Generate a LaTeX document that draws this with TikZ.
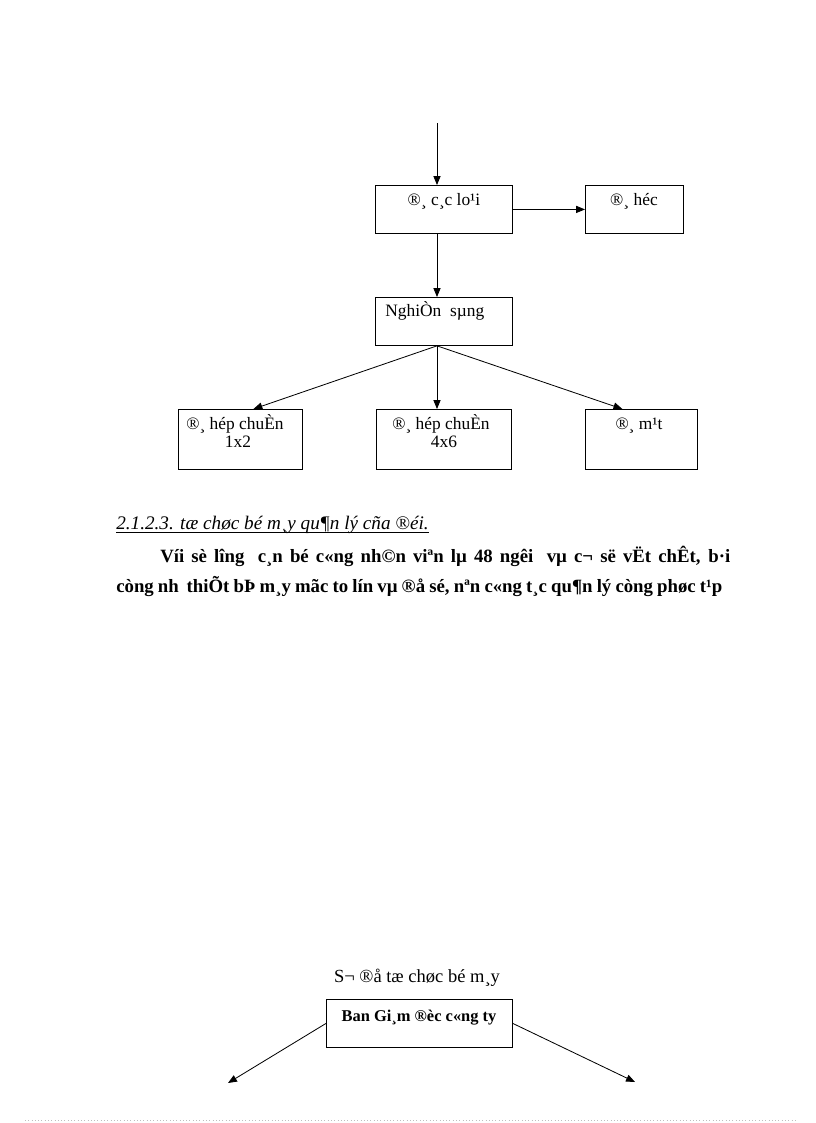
\documentclass[tikz,border=0pt]{standalone}
\usepackage{fontspec}
\setmainfont{Liberation Serif}
\usetikzlibrary{arrows.meta}
\begin{document}
\begin{tikzpicture}[x=0.7295pt,y=-0.7295pt,
  boxn/.style={draw, line width=0.6pt, inner sep=0pt, anchor=north west},
  arr/.style={-{Triangle[length=6.5pt,width=5.2pt]}, line width=0.6pt},
  boxtxt/.style={font=\fontsize{12.7}{15}\selectfont, inner sep=0pt, anchor=base},
  bodytxt/.style={font=\fontsize{13.7}{17}\selectfont\bfseries, inner sep=0pt, anchor=base west}]
\useasboundingbox (0,0) rectangle (816,1123);
% first flow chart
\node[boxn, minimum width=99.94pt, minimum height=35.02pt] (b1) at (375,185) {};
\node[boxn, minimum width=71.49pt, minimum height=35.02pt] (b2) at (585,185) {};
\node[boxn, minimum width=99.94pt, minimum height=35.02pt] (b3) at (375,297) {};
\node[boxn, minimum width=90.46pt, minimum height=43.77pt] (ba) at (178,409) {};
\node[boxn, minimum width=98.48pt, minimum height=43.77pt] (bb) at (376,409) {};
\node[boxn, minimum width=81.70pt, minimum height=43.77pt] (bc) at (585,409) {};
\node[boxtxt] (b1t) at (444,205) {®¸ c¸c lo¹i};
\node[boxtxt] (b2t) at (634,205) {®¸ héc};
\node[boxtxt, anchor=base west] (b3t) at (385,316) {NghiÒn\ \ sµng};
\node[boxtxt] (bat1) at (235,429) {®¸ hép chuÈn};
\node[boxtxt] (bat2) at (238,447) {1x2};
\node[boxtxt] (bbt1) at (441,429) {®¸ hép chuÈn};
\node[boxtxt] (bbt2) at (444,447) {4x6};
\node[boxtxt] (bct) at (639,429) {®¸ m¹t};
\coordinate (t0) at (437,123);
\draw[arr] (t0) -- (t0 |- b1.north);
\draw[arr] (b1.east) -- (b2.west);
\draw[arr] (t0 |- b1.south) -- (t0 |- b3.north);
\coordinate (s3) at (t0 |- b3.south);
\draw[arr] (s3) -- ([xshift=9.5pt]ba.north);
\draw[arr] (s3) -- (s3 |- bb.north);
\draw[arr] (s3) -- ([xshift=-13.9pt]bc.north);
% text
\node[anchor=base west, inner sep=0pt, font=\fontsize{14}{17}\selectfont\itshape] (h) at (116,529) {2.1.2.3. tæ chøc bé m¸y qu¶n lý cña ®éi.};
\draw[line width=0.6pt] ([yshift=-2.4pt]h.base west) -- ([yshift=-2.4pt]h.base east);
\node[bodytxt] (l1) at (160,562) {\spaceskip=0.25em plus 1em minus 0.15em \makebox[415.8pt][s]{Víi sè lîng\hspace{0.3em plus 0.3em} c¸n bé c«ng nh©n viªn lµ 48 ngêi\hspace{0.3em plus 0.3em} vµ c¬ së vËt chÊt, b·i}};
\node[bodytxt] (l2) at (116,592) {\spaceskip=0.25em plus 1em minus 0.15em \makebox[442.1pt][s]{còng nh\hspace{0.2em plus 0.2em} thiÕt bÞ m¸y mãc to lín vµ ®å sé, nªn c«ng t¸c qu¶n lý còng phøc t¹p}};
% second chart
\node[anchor=base, inner sep=0pt, font=\fontsize{13.5}{16}\selectfont] (ti) at (417,982) {S¬ ®å tæ chøc bé m¸y};
\node[boxn, minimum width=135.69pt, minimum height=35.02pt] (ban) at (326,999) {};
\node[boxtxt, font=\fontsize{12}{14}\selectfont\bfseries] (bant) at (419,1021) {Ban Gi¸m ®èc c«ng ty};
\coordinate (cl) at (228,1083);
\coordinate (cr) at (635,1082);
\draw[arr] (ban.west) -- (cl);
\draw[arr] (ban.east) -- (cr);
% page edge
\coordinate (dl) at (25,1120);
\coordinate (dr) at (795,1120);
\draw[gray!50, dotted, line width=0.4pt] (dl) -- (dr);
\end{tikzpicture}
\end{document}
